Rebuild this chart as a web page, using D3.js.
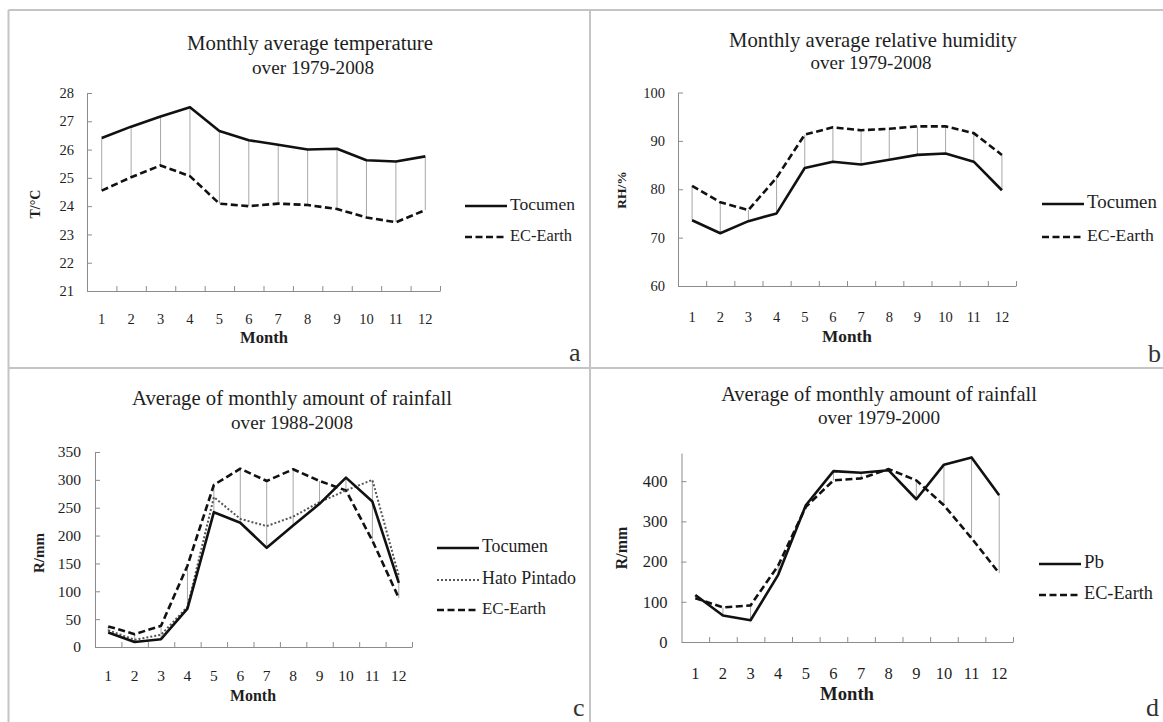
<!DOCTYPE html>
<html><head><meta charset="utf-8">
<script src="https://cdn.jsdelivr.net/npm/d3@7"></script>
<style>
body{margin:0;background:#fff}
svg{display:block}
text{font-family:"Liberation Serif","DejaVu Serif",serif;fill:#1e1e1e}
</style>
</head><body><svg id="chart" width="1163" height="722"></svg>
<script>
// ---------- data ----------
const months = ["1","2","3","4","5","6","7","8","9","10","11","12"];

const tempTocumen = [26.41,26.81,27.17,27.50,26.66,26.33,26.17,26.00,26.03,25.62,25.58,25.76];
const tempECEarth = [24.55,25.02,25.44,25.06,24.09,24.00,24.09,24.04,23.90,23.60,23.43,23.86];
const tempTicks = [21,22,23,24,25,26,27,28];

const rhTocumen = [73.6,70.9,73.4,75.0,84.4,85.7,85.1,86.1,87.1,87.4,85.7,79.8];
const rhECEarth = [80.7,77.3,75.7,82.4,91.3,92.8,92.2,92.5,93.0,93.0,91.6,87.1];
const rhTicks = [60,70,80,90,100];

const rainTocumen = [26,9,14,69,242,223,178,218,257,304,261,115];
const rainHato = [30,13,22,72,269,230,217,234,260,281,300,128];
const rainECEarthC = [37,23,38,146,291,320,298,319,298,281,191,88];
const rainCTicks = [0,50,100,150,200,250,300,350];

const rainPb = [117,66,54,167,340,425,421,427,355,441,459,365];
const rainECEarthD = [109,86,91,190,336,402,407,430,402,340,258,171];
const rainDTicks = [0,100,200,300,400];

// ---------- helpers ----------
const svg = d3.select("#chart");
const AXIS = "#8c8c8c";
const FONT = '"Liberation Serif","DejaVu Serif",serif';

function fit(sel, target){
  const w = sel.node().getComputedTextLength();
  const fs = parseFloat(sel.style("font-size"));
  if (w > 0) sel.style("font-size", (fs*target/w).toFixed(2)+"px");
  return sel;
}

// panel frames
const frame = svg.append("g").attr("stroke","#c4c4c4").attr("stroke-width",2);
frame.append("line").attr("x1",8.5).attr("x2",1163).attr("y1",10).attr("y2",10);
frame.append("line").attr("x1",8.5).attr("x2",8.5).attr("y1",10).attr("y2",722);
frame.append("line").attr("x1",590).attr("x2",590).attr("y1",10).attr("y2",722);
frame.append("line").attr("x1",8.5).attr("x2",1163).attr("y1",368).attr("y2",368);

const styles = {
  solid:{dash:null,width:2.6,color:"#111"},
  dashed:{dash:"7,3.5",width:2.6,color:"#111"},
  dotted:{dash:"2,2",width:2,color:"#555"}
};

function drawPanel(p){
  const g = svg.append("g");
  const x = d3.scaleBand().domain(months).range([p.left,p.right]);
  const xb = d3.scaleLinear().domain([0,months.length]).range([p.left,p.right]);
  const y = d3.scaleLinear().domain(p.domain).range([p.bottom,p.top]);
  const cx = m => x(m)+x.bandwidth()/2;

  // title
  p.title.forEach((t,i)=>{
    const tt = g.append("text").attr("x",p.titleX[i]).attr("y",p.titleY[i]).attr("text-anchor","middle")
      .attr("dominant-baseline","middle").style("font-size","17px").text(t);
    fit(tt, p.titleW[i]);
  });

  // y axis
  const ya = g.append("g").attr("transform",`translate(${p.left},0)`)
    .call(d3.axisLeft(y).tickValues(p.ticks).tickFormat(d3.format("d"))
      .tickSizeInner(-5).tickSizeOuter(0).tickPadding(p.tickPad));
  ya.select(".domain").attr("stroke",AXIS);
  ya.selectAll(".tick line").attr("stroke",AXIS);
  ya.selectAll(".tick text").style("font-size",p.tickSize+"px").style("font-family",FONT).attr("fill","#1e1e1e");

  // x axis boundary ticks
  const xa = g.append("g").attr("transform",`translate(0,${p.bottom})`)
    .call(d3.axisBottom(xb).tickValues(d3.range(1,months.length+1)).tickSizeInner(-5).tickSizeOuter(0).tickFormat(""));
  xa.select(".domain").attr("stroke",AXIS);
  xa.selectAll(".tick line").attr("stroke",AXIS);
  // month labels
  const xl = g.append("g").attr("transform",`translate(0,${p.bottom})`)
    .call(d3.axisBottom(x).tickSize(0).tickPadding(p.monthPad));
  xl.select(".domain").remove();
  xl.selectAll(".tick text").style("font-size",p.tickSize+"px").style("font-family",FONT).attr("fill","#1e1e1e");

  // axis titles
  const mt = g.append("text").attr("x",p.monthX).attr("y",p.monthY).attr("text-anchor","middle")
    .attr("dominant-baseline","middle").style("font-size","15px").style("font-weight","bold").text("Month");
  fit(mt, p.monthW);
  g.append("text").attr("transform",`translate(${p.yTitleX},${p.yTitleY}) rotate(-90)`)
    .attr("text-anchor","middle").attr("dominant-baseline","middle")
    .style("font-size",p.yTitleSize+"px").style("font-weight","bold").text(p.yTitle);

  // high-low lines
  months.forEach((m,i)=>{
    const vals = p.series.map(s=>s.values[i]);
    g.append("line").attr("x1",cx(m)).attr("x2",cx(m))
      .attr("y1",y(d3.max(vals))).attr("y2",y(d3.min(vals)))
      .attr("stroke","#a8a8a8").attr("stroke-width",1);
  });

  // series
  const line = d3.line().x((d,i)=>cx(months[i])).y(d=>y(d));
  p.series.slice().reverse().forEach(s=>{
    const st = styles[s.style];
    g.append("path").attr("d",line(s.values)).attr("fill","none")
      .attr("stroke",st.color).attr("stroke-width",st.width)
      .attr("stroke-dasharray",st.dash).attr("stroke-linejoin","round");
  });

  // legend
  p.series.forEach((s,i)=>{
    const st = styles[s.style];
    const ly = p.legendY[i];
    g.append("line").attr("x1",p.legendX).attr("x2",p.legendX+42).attr("y1",ly).attr("y2",ly)
      .attr("stroke",st.color).attr("stroke-width",st.width).attr("stroke-dasharray",st.dash);
    const lt = g.append("text").attr("x",p.legendX+45).attr("y",ly).attr("dominant-baseline","middle")
      .style("font-size","16px").text(s.name);
    fit(lt, p.legendW[i]);
  });

  // panel letter
  g.append("text").attr("x",p.letterX).attr("y",p.letterY).style("font-size","26px")
    .style("fill","#333").text(p.letter);
}

drawPanel({
  left:87,right:440,top:93,bottom:291,domain:[21,28],ticks:tempTicks,tickPad:13,tickSize:14.5,monthPad:23,
  title:["Monthly average temperature","over 1979-2008"],titleX:[310,313],titleY:[45,70],titleW:[246,122],
  monthX:264,monthY:339,monthW:48,yTitle:"T/\u00B0C",yTitleX:37,yTitleY:204,yTitleSize:14,
  series:[{name:"Tocumen",values:tempTocumen,style:"solid"},{name:"EC-Earth",values:tempECEarth,style:"dashed"}],
  legendX:465,legendY:[206,237],legendW:[65,62],letter:"a",letterX:569,letterY:361
});
drawPanel({
  left:678,right:1016,top:92.5,bottom:286,domain:[60,100],ticks:rhTicks,tickPad:13,tickSize:14.5,monthPad:26,
  title:["Monthly average relative humidity","over 1979-2008"],titleX:[873,871],titleY:[42,65],titleW:[288,121],
  monthX:847,monthY:338,monthW:50,yTitle:"RH/%",yTitleX:623,yTitleY:190,yTitleSize:13.5,
  series:[{name:"Tocumen",values:rhTocumen,style:"solid"},{name:"EC-Earth",values:rhECEarth,style:"dashed"}],
  legendX:1042,legendY:[204,237],legendW:[70,67],letter:"b",letterX:1148,letterY:362
});
drawPanel({
  left:95,right:412,top:452,bottom:647,domain:[0,350],ticks:rainCTicks,tickPad:14,tickSize:15.5,monthPad:23,
  title:["Average of monthly amount of rainfall","over 1988-2008"],titleX:[292,292],titleY:[400,425],titleW:[320,122],
  monthX:253,monthY:697,monthW:46,yTitle:"R/mm",yTitleX:41,yTitleY:553,yTitleSize:15,
  series:[{name:"Tocumen",values:rainTocumen,style:"solid"},{name:"Hato Pintado",values:rainHato,style:"dotted"},{name:"EC-Earth",values:rainECEarthC,style:"dashed"}],
  legendX:437,legendY:[548,580,610],legendW:[66,94,64],letter:"c",letterX:573,letterY:716
});
drawPanel({
  left:681.5,right:1013,top:453,bottom:642,domain:[0,470],ticks:rainDTicks,tickPad:14,tickSize:16.5,monthPad:25,
  title:["Average of monthly amount of rainfall","over 1979-2000"],titleX:[879,879],titleY:[396,420],titleW:[316,122],
  monthX:847,monthY:696,monthW:54,yTitle:"R/mm",yTitleX:623,yTitleY:548,yTitleSize:16,
  series:[{name:"Pb",values:rainPb,style:"solid"},{name:"EC-Earth",values:rainECEarthD,style:"dashed"}],
  legendX:1039,legendY:[564,595],legendW:[20,69],letter:"d",letterX:1146,letterY:716
});
</script>
</body></html>
